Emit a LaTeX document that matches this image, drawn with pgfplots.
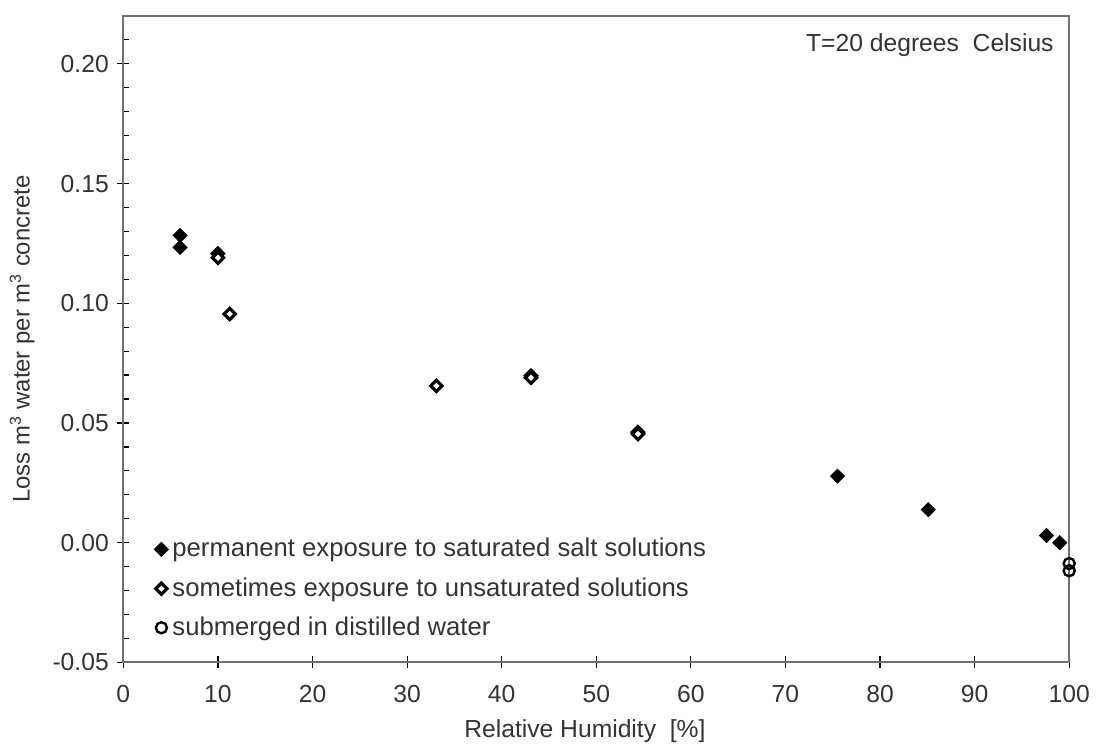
\documentclass[border=0pt]{standalone}
\usepackage{fontspec}
\setmainfont{Liberation Sans}
\usepackage{pgfplots}
\pgfplotsset{compat=1.18}
\definecolor{txt}{HTML}{333333}
\definecolor{frame}{HTML}{707070}
\begin{document}
\fontsize{12.4}{15}\selectfont
\begin{tikzpicture}
\begin{axis}[
  name=ax,
  scale only axis,
  width=475.5pt, height=325pt,
  xmin=0, xmax=100, ymin=-0.05, ymax=0.22,
  xtick={0,10,...,100},
  ytick={-0.05,0,0.05,0.10,0.15,0.20},
  minor ytick={-0.04,-0.03,...,0.215},
  xtick pos=bottom, ytick pos=left,
  tick align=center,
  major tick length=6pt,
  minor tick length=2.6pt,
  minor tick style={xshift=1.3pt},
  tick style={black, line width=0.6pt},
  axis line style={frame, line width=1pt},
  /pgf/number format/assume math mode=true,
  yticklabel style={/pgf/number format/fixed, /pgf/number format/fixed zerofill, /pgf/number format/precision=2, text=txt, font=\fontsize{12.4}{15}\selectfont},
  xticklabel style={text=txt, font=\fontsize{12.4}{15}\selectfont, yshift=-4pt},
  scaled y ticks=false,
  ylabel={Loss m\textsuperscript{3} water per m\textsuperscript{3} concrete},
  xlabel={Relative Humidity\ \ [\%]},
  label style={text=txt},
  ylabel style={at={(axis description cs:-0.107,0.5)}, anchor=center, font=\fontsize{12}{14}\selectfont},
  xlabel style={at={(axis description cs:0.488,0)}, yshift=-34.5pt, anchor=center, font=\fontsize{12.4}{15}\selectfont},
  legend style={draw=none, fill=none, at={(axis description cs:0.0303,0.0265)}, anchor=south west, font=\fontsize{12.9}{15}\selectfont, text=txt, row sep=4.5pt, inner sep=1pt},
  legend cell align=left,
  legend image code/.code={\draw[#1] (0pt,0pt) plot coordinates {(0pt,0pt)};},
  clip=false,
]
\addplot[only marks, mark=square*, mark size=2.5pt, black, mark options={fill=black, rotate=45}] coordinates {
  (6,0.1283) (6,0.1233) (75.5,0.0278) (85.1,0.0138) (97.6,0.0030) (99.0,0.0000)
};
\addlegendentry{permanent exposure to saturated salt solutions}
\addplot[only marks, mark=square*, mark size=2.0pt, black, line width=1.6pt, mark options={fill=white, rotate=45}] coordinates {
  (10,0.1207) (10,0.1190) (11.25,0.0955) (33.1,0.0655) (43.1,0.0697) (43.1,0.0689) (54.4,0.0462) (54.4,0.0454)
};
\addlegendentry{sometimes exposure to unsaturated solutions}
\addplot[only marks, mark=o, mark size=2.8pt, black, line width=1.2pt] coordinates {
  (100,-0.0087) (100,-0.0117)
};
\addlegendentry{submerged in distilled water}
\node[anchor=east, text=txt, font=\fontsize{12.4}{15}\selectfont] at ([xshift=-3.5pt, yshift=-14.5pt]rel axis cs:1,1) {T=20 degrees\ \ Celsius};
\end{axis}
\path ([shift={(-62pt,-39.5pt)}]ax.south west) rectangle ([shift={(11.5pt,8pt)}]ax.north east);
\end{tikzpicture}
\end{document}
